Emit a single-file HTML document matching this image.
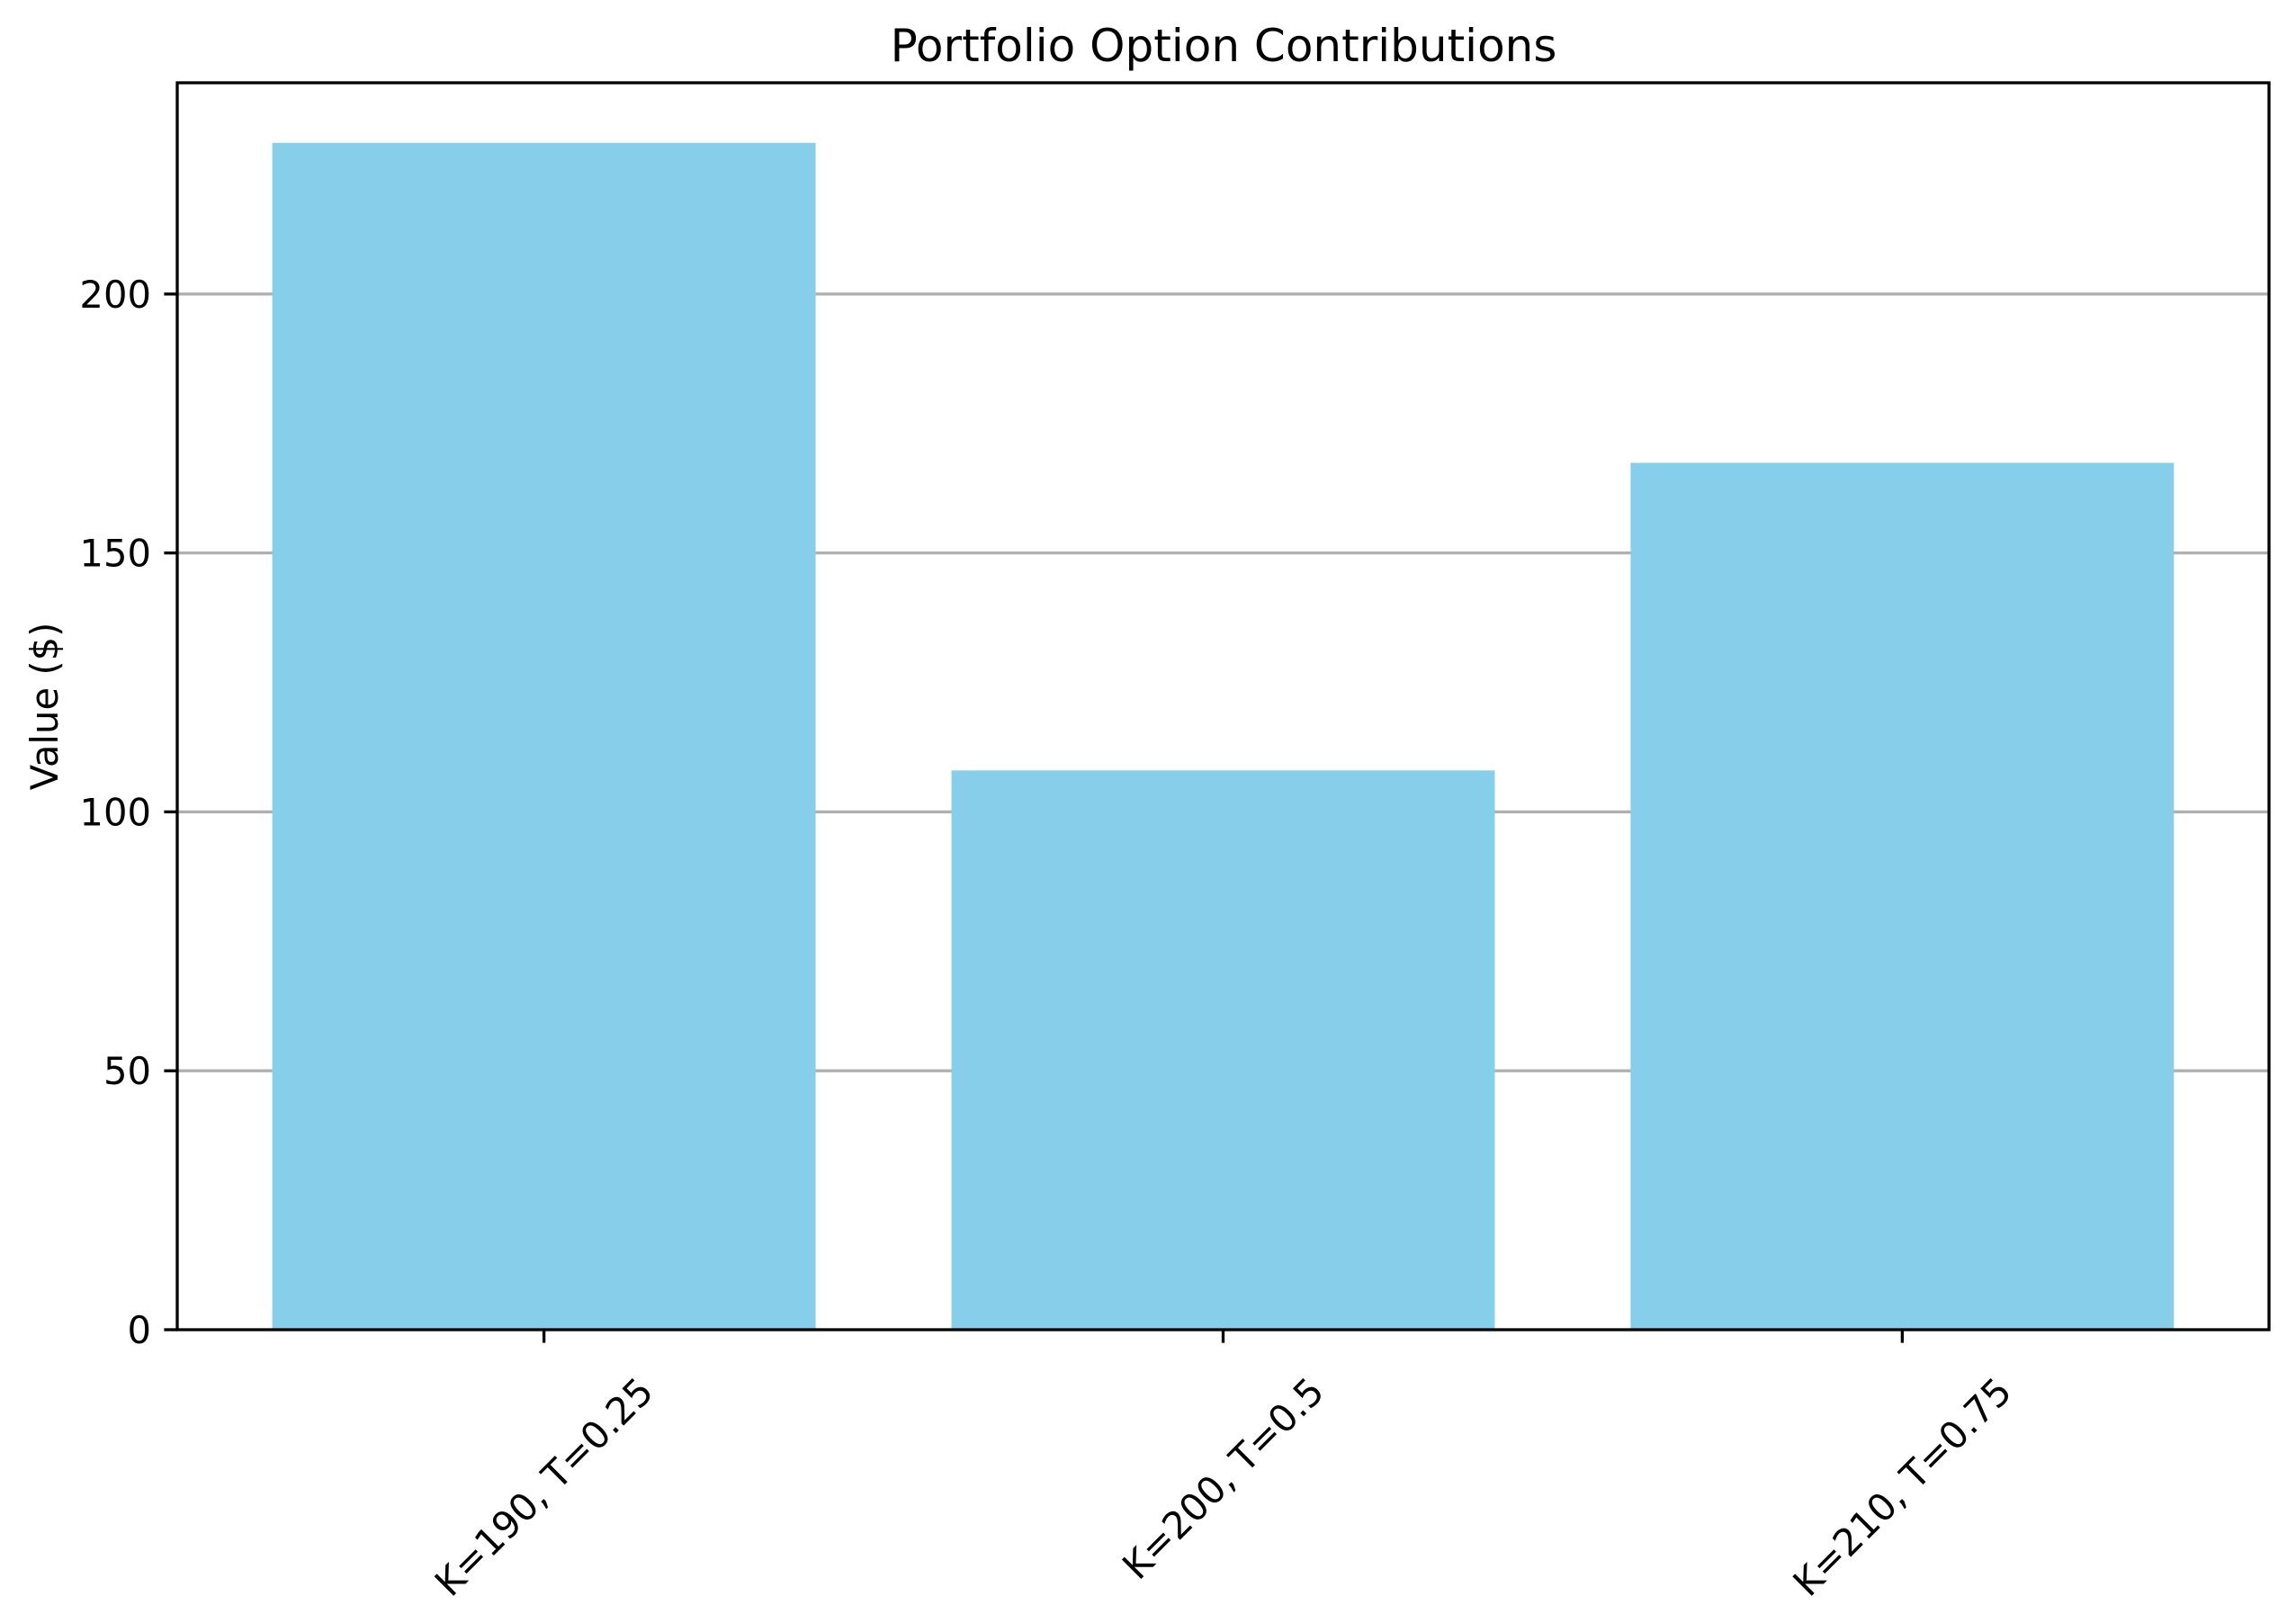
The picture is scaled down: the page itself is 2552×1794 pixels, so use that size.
<!DOCTYPE html>
<html><head><meta charset="utf-8"><style>
html,body{margin:0;padding:0;background:#fff}
svg{display:block}
text{font-family:"DejaVu Sans","Liberation Sans",sans-serif;fill:#000}
</style></head><body>
<svg id="chart" width="2552" height="1794" viewBox="0 0 2552 1794" xmlns="http://www.w3.org/2000/svg">
<rect width="2552" height="1794" fill="#fff"/>
<g id="grid"></g><g id="bars"></g><g id="axes"></g>
<text x="1360" y="68" font-size="50" text-anchor="middle">Portfolio Option Contributions</text>
<text x="0" y="0" font-size="41.7" text-anchor="middle" transform="translate(64,785) rotate(-90)">Value ($)</text>
</svg>
<script>
const categories = ["K=190, T=0.25", "K=200, T=0.5", "K=210, T=0.75"];
const values = [229.2, 108.0, 167.4];
const yTicks = [0, 50, 100, 150, 200];

const NS = "http://www.w3.org/2000/svg";
const L = 197, R = 2522, T = 92, B = 1478;
const xMin = -0.54, xMax = 2.54, yMin = 0, yMax = 240.8;
function xs(v){ return L + (v - xMin) / (xMax - xMin) * (R - L); }
function ys(v){ return B - (v - yMin) / (yMax - yMin) * (B - T); }
function mk(tag, attrs, parent){ const e = document.createElementNS(NS, tag); for (const k in attrs) e.setAttribute(k, attrs[k]); parent.appendChild(e); return e; }
const grid = document.getElementById('grid'), bars = document.getElementById('bars'), axes = document.getElementById('axes');

yTicks.forEach(t => {
  if (t > 0) {
    const g = mk('line', {x1:L, x2:R, y1:ys(t), y2:ys(t), stroke:'#b0b0b0', 'stroke-width':3.3}, grid);
    
    
  }
  const tk = mk('line', {x1:L-14.6, x2:L, y1:ys(t), y2:ys(t), stroke:'#000', 'stroke-width':3.3}, axes);
  
  
  const lb = mk('text', {x:L-29, y:ys(t)+15, 'font-size':41.7, 'text-anchor':'end'}, axes);
  lb.textContent = t;
  
  
});

categories.forEach((c, i) => {
  const x0 = xs(i - 0.4), x1 = xs(i + 0.4);
  const b = mk('rect', {x:x0, y:ys(values[i]), width:x1 - x0, height:ys(0) - ys(values[i]), fill:'#87ceeb'}, bars);
  
  
  const cx = xs(i);
  const tk = mk('line', {x1:cx, x2:cx, y1:B, y2:B+14.6, stroke:'#000', 'stroke-width':3.3}, axes);
  
  
  const lb = mk('text', {x:0, y:0, 'font-size':41.7, 'text-anchor':'middle', 'dominant-baseline':'central'}, axes);
  lb.textContent = c;
  
  
  const w = lb.getComputedTextLength(), h = 48;
  const bh = (w + h) * 0.7071;
  lb.setAttribute('transform', 'translate(' + cx + ',' + (1522 + bh / 2) + ') rotate(-45)');
});

const frame = mk('rect', {x:L, y:T, width:R-L, height:B-T, fill:'none', stroke:'#000', 'stroke-width':3.3}, axes);


</script>
</body></html>
